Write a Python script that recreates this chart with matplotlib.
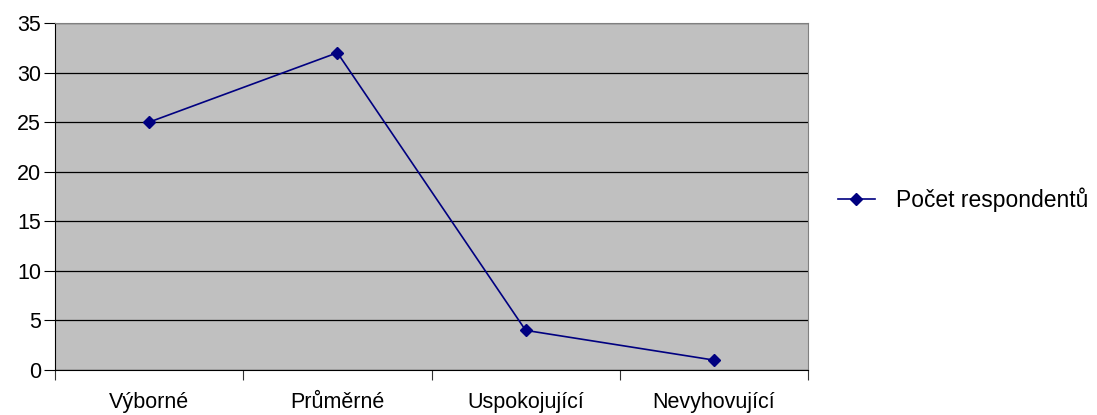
import matplotlib; matplotlib.use("Agg")
import matplotlib.pyplot as plt
import numpy as np

categories = ["Výborné", "Průměrné", "Uspokojující", "Nevyhovující"]
values = [25, 32, 4, 1]
series_label = "Počet respondentů"

plt.rcParams.update({"font.family": ["Liberation Sans", "DejaVu Sans"], "font.size": 15.5})
fig = plt.figure(figsize=(10.97, 4.15), dpi=100)
ax = fig.add_axes([55/1097, 45/415, 753/1097, 347/415])
ax.set_facecolor("#C0C0C0")
x = np.arange(len(categories))
ax.plot(x, values, color="#000080", lw=1.2, marker="D", ms=6.5, label=series_label, zorder=3)
ax.set_xlim(-0.5, len(categories) - 0.5); ax.set_ylim(0, 35)
ax.set_yticks(range(0, 36, 5))
ax.yaxis.grid(True, color="black", lw=0.9); ax.set_axisbelow(True)
ax.set_xticks(np.arange(-0.5, len(categories), 1)); ax.set_xticklabels([])
ax.set_xticks(x, minor=True); ax.set_xticklabels(categories, minor=True)
ax.tick_params(axis="x", which="major", length=7, direction="out", color="#333")
ax.tick_params(axis="x", which="minor", length=0, pad=16)
ax.tick_params(axis="y", length=8, direction="out", pad=2)
for s in ("top", "right"): ax.spines[s].set_color("#808080")
for s in ("left", "bottom"): ax.spines[s].set_color("black")
fig.legend(loc="center left", bbox_to_anchor=(838/1097, 0.518), frameon=False, fontsize=16.5,
           borderpad=0, borderaxespad=0, handlelength=1.6, handletextpad=0.95)
fig.savefig("out.png", dpi=100)
